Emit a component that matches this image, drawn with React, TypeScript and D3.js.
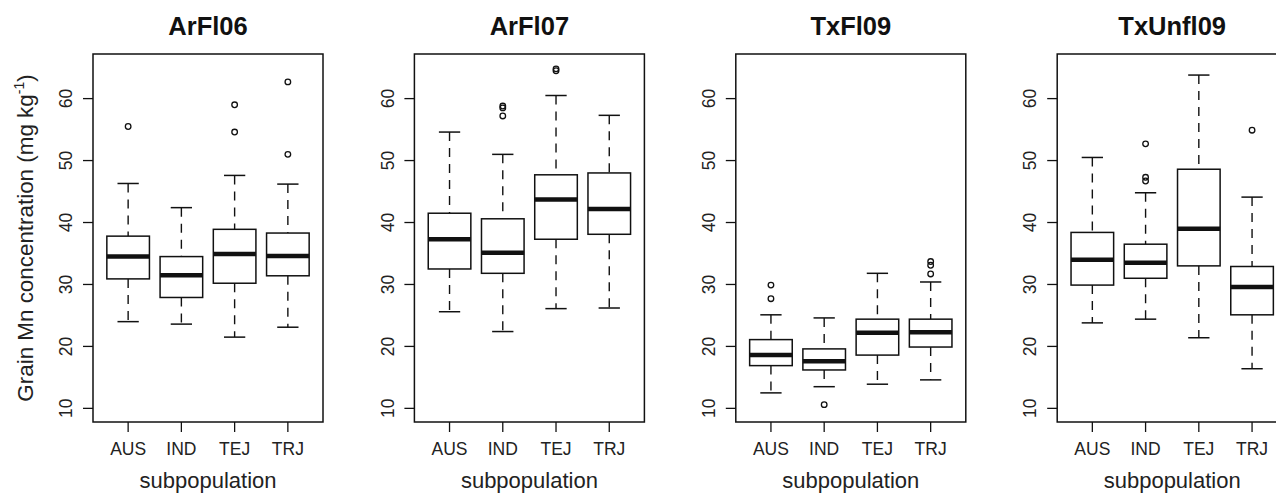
import React from 'react';
import * as d3 from 'd3';

const groups = ['AUS', 'IND', 'TEJ', 'TRJ'];
const panelTitles = ['ArFl06', 'ArFl07', 'TxFl09', 'TxUnfl09'];
const yTicks = [10, 20, 30, 40, 50, 60];

// [lower whisker, Q1, median, Q3, upper whisker] per subpopulation
const arfl06 = [[24.0, 30.9, 34.5, 37.8, 46.3], [23.6, 27.9, 31.5, 34.5, 42.4], [21.5, 30.2, 34.9, 38.9, 47.6], [23.1, 31.4, 34.6, 38.3, 46.2]];
const arfl07 = [[25.6, 32.5, 37.3, 41.5, 54.6], [22.4, 31.8, 35.1, 40.6, 51.0], [26.1, 37.3, 43.7, 47.7, 60.5], [26.2, 38.1, 42.2, 48.0, 57.3]];
const txfl09 = [[12.5, 16.9, 18.6, 21.1, 25.1], [13.5, 16.2, 17.6, 19.6, 24.6], [13.9, 18.6, 22.2, 24.4, 31.8], [14.6, 19.9, 22.3, 24.4, 30.4]];
const txunfl09 = [[23.8, 29.9, 34.0, 38.4, 50.5], [24.4, 31.0, 33.5, 36.5, 44.8], [21.4, 33.0, 39.0, 48.6, 63.8], [16.4, 25.1, 29.6, 32.9, 44.1]];

// outliers per subpopulation
const arfl06Out = [[55.5], [], [54.6, 59.0], [51.0, 62.7]];
const arfl07Out = [[], [57.2, 58.5, 58.8], [64.5, 64.8], []];
const txfl09Out = [[27.7, 29.9], [10.6], [], [31.7, 33.1, 33.7]];
const txunfl09Out = [[], [46.7, 47.3, 52.7], [], [54.9]];

const stats = [arfl06, arfl07, txfl09, txunfl09];
const outliers = [arfl06Out, arfl07Out, txfl09Out, txunfl09Out];

const W = 1276, H = 493;
const M = { top: 54, bottom: 422, width: 230, first: 93, step: 321.4 };
const FONT = '"Liberation Sans", Arial, Helvetica, sans-serif';
const INK = '#111';

const y = d3.scaleLinear().domain([7.8, 67.2]).range([M.bottom, M.top]);

function Panel({ idx }: { idx: number }) {
  const left = M.first + idx * M.step;
  const x = d3.scaleLinear().domain([0.34, 4.66]).range([left, left + M.width]);
  const unit = x(1) - x(0);
  const bw = 0.8 * unit, cw = 0.4 * unit;
  const cx = left + M.width / 2;
  return (
    <g>
      <text x={cx} y={35} textAnchor="middle" fontWeight="bold" fontSize={25.5} fill={INK}>{panelTitles[idx]}</text>
      <rect x={left} y={M.top} width={M.width} height={M.bottom - M.top} fill="none" stroke={INK} strokeWidth={1.5} />
      {yTicks.map(t => (
        <g key={t}>
          <line x1={left - 10} x2={left} y1={y(t)} y2={y(t)} stroke={INK} strokeWidth={1.3} />
          <text transform={`translate(${left - 27},${y(t)}) rotate(-90)`} textAnchor="middle" dy="0.35em" fontSize={17.5} fill="#222">{t}</text>
        </g>
      ))}
      {groups.map((gname, i) => {
        const c = x(i + 1);
        const [lo, q1, med, q3, hi] = stats[idx][i];
        return (
          <g key={gname}>
            <line x1={c} x2={c} y1={M.bottom} y2={M.bottom + 10} stroke={INK} strokeWidth={1.3} />
            <text x={c} y={455} textAnchor="middle" fontSize={17.5} fill="#222">{gname}</text>
            <line x1={c} x2={c} y1={y(hi)} y2={y(q3)} stroke={INK} strokeWidth={1.4} strokeDasharray="9,7" />
            <line x1={c} x2={c} y1={y(q1)} y2={y(lo)} stroke={INK} strokeWidth={1.4} strokeDasharray="9,7" />
            <line x1={c - cw / 2} x2={c + cw / 2} y1={y(hi)} y2={y(hi)} stroke={INK} strokeWidth={1.5} />
            <line x1={c - cw / 2} x2={c + cw / 2} y1={y(lo)} y2={y(lo)} stroke={INK} strokeWidth={1.5} />
            <rect x={c - bw / 2} y={y(q3)} width={bw} height={y(q1) - y(q3)} fill="#fff" stroke={INK} strokeWidth={1.5} />
            <line x1={c - bw / 2} x2={c + bw / 2} y1={y(med)} y2={y(med)} stroke={INK} strokeWidth={4.5} />
            {outliers[idx][i].map((v, k) => (
              <circle key={k} cx={c} cy={y(v)} r={2.8} fill="none" stroke={INK} strokeWidth={1.3} />
            ))}
          </g>
        );
      })}
      <text x={cx} y={488} textAnchor="middle" fontSize={22} fill="#222">subpopulation</text>
    </g>
  );
}

export default function App() {
  const midY = (M.top + M.bottom) / 2;
  return (
    <div style={{ position: 'fixed', left: 0, top: 0, background: '#fff' }}>
      <svg width={W} height={H} fontFamily={FONT} style={{ display: 'block' }}>
        <rect width={W} height={H} fill="#fff" />
        {panelTitles.map((_, i) => <Panel key={i} idx={i} />)}
        <text transform={`translate(33,${midY}) rotate(-90)`} textAnchor="middle" fontSize={22.4} fill="#222">
          Grain Mn concentration (mg kg<tspan fontSize={14} dy={-9}>-1</tspan><tspan dy={9}>)</tspan>
        </text>
      </svg>
    </div>
  );
}
